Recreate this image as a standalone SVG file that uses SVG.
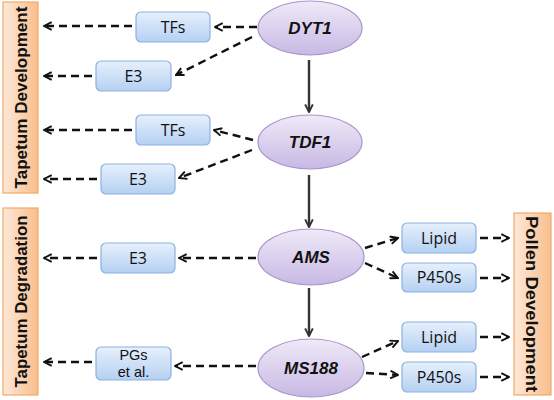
<svg xmlns="http://www.w3.org/2000/svg" width="554" height="400" viewBox="0 0 554 400">
<defs>
<linearGradient id="gOr" x1="0" y1="0" x2="1" y2="0"><stop offset="0" stop-color="#FDE9D9"/><stop offset="1" stop-color="#F9BE8C"/></linearGradient>
<linearGradient id="gBl" x1="0" y1="0" x2="0" y2="1"><stop offset="0" stop-color="#E6F0FC"/><stop offset="1" stop-color="#B5D0F2"/></linearGradient>
<linearGradient id="gPu" x1="0" y1="0" x2="0" y2="1"><stop offset="0" stop-color="#EFEAF8"/><stop offset="1" stop-color="#C8B8E4"/></linearGradient>
<marker id="ah" viewBox="0 0 10 10" refX="9" refY="5" markerWidth="4" markerHeight="4" orient="auto" markerUnits="strokeWidth"><path d="M1,1 L9,5 L1,9" fill="none" stroke="#111" stroke-width="2"/></marker>
<marker id="ahs" viewBox="0 0 10 10" refX="9" refY="5" markerWidth="4" markerHeight="4" orient="auto" markerUnits="strokeWidth"><path d="M1,1 L9,5 L1,9" fill="none" stroke="#333" stroke-width="2"/></marker>
</defs>
<style>
.bar{fill:url(#gOr);stroke:#F2A968;stroke-width:1.2}
.box{fill:url(#gBl);stroke:#8CB1DE;stroke-width:1.2}
.ell{fill:url(#gPu);stroke:#A896CC;stroke-width:1.2}
.bt{font-family:"Liberation Sans",Arial,sans-serif;font-weight:bold;font-size:17px;fill:#111;text-anchor:middle}
.et{font-family:"Liberation Sans",Arial,sans-serif;font-weight:bold;font-style:italic;font-size:17px;fill:#111;text-anchor:middle}
.xt{font-family:"Open Sans","Liberation Sans",sans-serif;font-size:16px;fill:#111;text-anchor:middle}
.pt{font-family:"Liberation Sans",Arial,sans-serif;font-size:14.5px;fill:#111;text-anchor:middle}
.d{fill:none;stroke:#111;stroke-width:2.4;stroke-dasharray:8 5;marker-end:url(#ah)}
.s{fill:none;stroke:#333;stroke-width:2.4;marker-end:url(#ahs)}
</style>
<g id="bar-tapetum-development"><rect class="bar" x="3" y="2" width="35" height="191"/><text class="bt" transform="translate(27,97.5) rotate(-90)" textLength="182" lengthAdjust="spacingAndGlyphs">Tapetum Development</text></g>
<g id="bar-tapetum-degradation"><rect class="bar" x="3" y="208" width="35" height="187"/><text class="bt" transform="translate(27,301.5) rotate(-90)" textLength="172" lengthAdjust="spacingAndGlyphs">Tapetum Degradation</text></g>
<g id="bar-pollen-development"><rect class="bar" x="514" y="213" width="37" height="182"/><text class="bt" transform="translate(526,304) rotate(90)" textLength="176" lengthAdjust="spacingAndGlyphs">Pollen Development</text></g>
<g id="n-dyt1"><ellipse class="ell" cx="310" cy="28" rx="52" ry="27"/><text class="et" x="310" y="34">DYT1</text></g>
<g id="n-tdf1"><ellipse class="ell" cx="310" cy="142" rx="52" ry="27"/><text class="et" x="310" y="148">TDF1</text></g>
<g id="n-ams"><ellipse class="ell" cx="311" cy="257" rx="53" ry="28"/><text class="et" x="311" y="263">AMS</text></g>
<g id="n-ms188"><ellipse class="ell" cx="311" cy="368" rx="53" ry="29"/><text class="et" x="311" y="374">MS188</text></g>
<g id="b-tfs1"><rect class="box" x="136" y="12" width="74" height="30" rx="5"/><text class="xt" x="173" y="32.5">TFs</text></g>
<g id="b-e3-1"><rect class="box" x="96" y="61" width="75" height="30" rx="5"/><text class="xt" x="133.5" y="81.5">E3</text></g>
<g id="b-tfs2"><rect class="box" x="136" y="115" width="74" height="30" rx="5"/><text class="xt" x="173" y="135.5">TFs</text></g>
<g id="b-e3-2"><rect class="box" x="101" y="164" width="74" height="30" rx="5"/><text class="xt" x="138" y="184.5">E3</text></g>
<g id="b-e3-3"><rect class="box" x="101" y="243" width="74" height="30" rx="5"/><text class="xt" x="138" y="263.5">E3</text></g>
<g id="b-pgs"><rect class="box" x="96" y="347" width="75" height="33" rx="5"/><text class="pt" x="133.5" y="359.5">PGs</text><text class="pt" x="133.5" y="376.5">et al.</text></g>
<g id="b-lipid1"><rect class="box" x="402" y="223" width="74" height="30" rx="5"/><text class="xt" x="439" y="243.5">Lipid</text></g>
<g id="b-p450s1"><rect class="box" x="402" y="263" width="74" height="29" rx="5"/><text class="xt" x="439" y="283">P450s</text></g>
<g id="b-lipid2"><rect class="box" x="402" y="322" width="74" height="30" rx="5"/><text class="xt" x="439" y="342.5">Lipid</text></g>
<g id="b-p450s2"><rect class="box" x="402" y="362" width="74" height="30" rx="5"/><text class="xt" x="439" y="382.5">P450s</text></g>
<g id="connectors">
<path class="s" d="M309,60 V112"/>
<path class="s" d="M309,175 V227"/>
<path class="s" d="M309,288 V336"/>
<path class="d" d="M257,27 H215"/>
<path class="d" d="M252,37 L176,75"/>
<path class="d" d="M132,26 H44"/>
<path class="d" d="M92,76 H44"/>
<path class="d" d="M253,140 L214,130"/>
<path class="d" d="M252,150 L179,178"/>
<path class="d" d="M132,130 H44"/>
<path class="d" d="M97,179 H44"/>
<path class="d" d="M256,258 H179"/>
<path class="d" d="M97,258 H44"/>
<path class="d" d="M256,366 H175"/>
<path class="d" d="M92,362 H44"/>
<path class="d" d="M365,248 L398,238"/>
<path class="d" d="M365,263 L398,278"/>
<path class="d" d="M480,238 H509"/>
<path class="d" d="M480,278 H509"/>
<path class="d" d="M362,357 L398,341"/>
<path class="d" d="M366,373 L398,375"/>
<path class="d" d="M480,337 H509"/>
<path class="d" d="M480,377 H509"/>
</g>
</svg>
